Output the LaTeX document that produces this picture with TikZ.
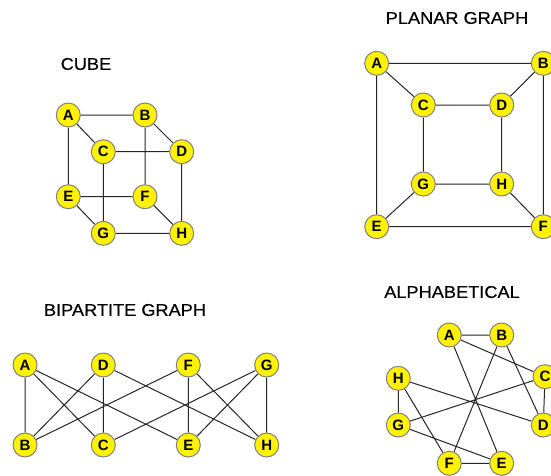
\documentclass[tikz,border=0pt]{standalone}
\usepackage{fontspec}
\setmainfont{Liberation Sans}
\newfontfamily\ttlfont[FakeStretch=1.07,FakeBold=0.4]{Liberation Sans}
\usetikzlibrary{backgrounds}
\begin{document}
\begin{tikzpicture}[x=1pt,y=-1pt,
  vtx/.style={circle,draw=black!50,line width=1pt,fill=yellow,minimum size=24pt,inner sep=0pt,
    font=\fontsize{15}{15}\selectfont\bfseries},
  edge/.style={draw=black!85,line width=1pt},
  ttl/.style={font=\ttlfont\fontsize{17}{18}\selectfont, inner sep=0pt}]
\useasboundingbox (0,0) rectangle (551,475);
% titles
\node[ttl] (tcube) at (86,64) {CUBE};
\node[ttl] (tplanar) at (457,18) {PLANAR GRAPH};
\node[ttl] (tbip) at (125,310) {BIPARTITE GRAPH};
\node[ttl] (talpha) at (452,292) {ALPHABETICAL};
% ---------- CUBE ----------
\node[vtx] (cA) at (68.3,115) {A};
\node[vtx] (cB) at (145,115) {B};
\node[vtx] (cC) at (103.3,151.7) {C};
\node[vtx] (cD) at (181.7,151.7) {D};
\node[vtx] (cE) at (68.3,196.7) {E};
\node[vtx] (cF) at (145,196.7) {F};
\node[vtx] (cG) at (103.3,233.3) {G};
\node[vtx] (cH) at (181.7,233.3) {H};
% ---------- PLANAR ----------
\node[vtx] (pA) at (376.7,63.3) {A};
\node[vtx] (pB) at (543.3,63.3) {B};
\node[vtx] (pC) at (423.3,105) {C};
\node[vtx] (pD) at (501.7,105) {D};
\node[vtx] (pG) at (423.3,184) {G};
\node[vtx] (pH) at (501.7,184) {H};
\node[vtx] (pE) at (376.7,226.7) {E};
\node[vtx] (pF) at (543.3,226.7) {F};
% ---------- BIPARTITE ----------
\node[vtx] (bA) at (25,365) {A};
\node[vtx] (bD) at (103.3,365) {D};
\node[vtx] (bF) at (188.3,365) {F};
\node[vtx] (bG) at (266.7,365) {G};
\node[vtx] (bB) at (25,445) {B};
\node[vtx] (bC) at (103.3,445) {C};
\node[vtx] (bE) at (188.3,445) {E};
\node[vtx] (bH) at (266.7,445) {H};
% ---------- ALPHABETICAL ----------
\node[vtx] (aA) at (449.3,335) {A};
\node[vtx] (aB) at (501.7,335) {B};
\node[vtx] (aC) at (545,376.7) {C};
\node[vtx] (aD) at (543.3,425) {D};
\node[vtx] (aE) at (501.7,463.3) {E};
\node[vtx] (aF) at (449.3,463.3) {F};
\node[vtx] (aG) at (398.3,425) {G};
\node[vtx] (aH) at (398.3,378.3) {H};
% edges (behind the nodes)
\begin{pgfonlayer}{background}
\path[edge] (cA)--(cB) (cA)--(cC) (cA)--(cE) (cB)--(cD) (cB)--(cF) (cC)--(cD)
  (cC)--(cG) (cD)--(cH) (cE)--(cF) (cE)--(cG) (cF)--(cH) (cG)--(cH);
\path[edge] (pA)--(pB) (pA)--(pC) (pA)--(pE) (pB)--(pD) (pB)--(pF) (pC)--(pD)
  (pC)--(pG) (pD)--(pH) (pG)--(pH) (pG)--(pE) (pH)--(pF) (pE)--(pF);
\path[edge] (bA)--(bB) (bA)--(bC) (bA)--(bE) (bD)--(bB) (bD)--(bC) (bD)--(bH)
  (bF)--(bB) (bF)--(bE) (bF)--(bH) (bG)--(bC) (bG)--(bE) (bG)--(bH);
\path[edge] (aA)--(aB) (aA)--(aC) (aA)--(aE) (aB)--(aD) (aB)--(aF) (aC)--(aD)
  (aC)--(aG) (aD)--(aH) (aE)--(aF) (aE)--(aG) (aF)--(aH) (aG)--(aH);
\end{pgfonlayer}
\end{tikzpicture}
\end{document}
